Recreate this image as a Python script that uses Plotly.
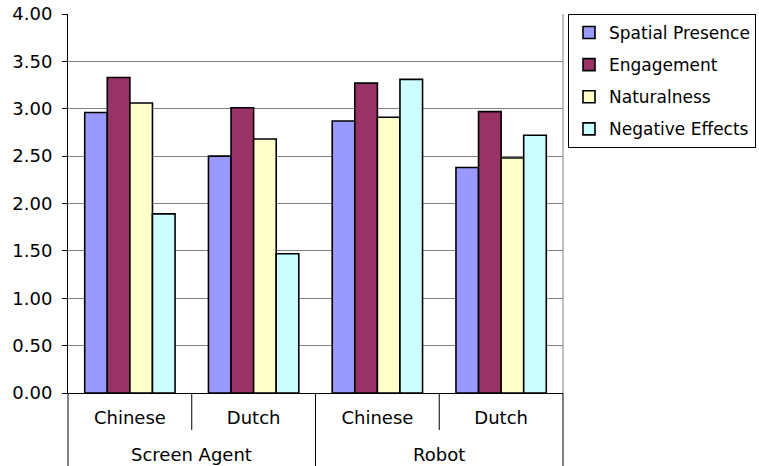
import plotly.graph_objects as go

groups = ["Screen Agent", "Robot"]
languages = ["Chinese", "Dutch"]
series_names = ["Spatial Presence", "Engagement", "Naturalness", "Negative Effects"]
spatial_presence = [2.96, 2.50, 2.87, 2.38]
engagement = [3.33, 3.01, 3.27, 2.97]
naturalness = [3.06, 2.68, 2.91, 2.48]
negative_effects = [1.89, 1.47, 3.31, 2.72]
colors = ["#9999FF", "#993366", "#FFFFCC", "#CCFFFF"]
y_ticks = [0, 0.5, 1.0, 1.5, 2.0, 2.5, 3.0, 3.5, 4.0]

cats = [f"{g}|{l}" for g in groups for l in languages]
ticktext = [l for g in groups for l in languages]
values = [spatial_presence, engagement, naturalness, negative_effects]

FONT = "DejaVu Sans"
fig = go.Figure()
for i, (name, vals, col) in enumerate(zip(series_names, values, colors)):
    fig.add_trace(go.Bar(
        x=cats, y=vals, name=name, legendgroup=name,
        marker=dict(color=col, line=dict(color="black", width=1.6)),
    ))

fig.update_layout(
    width=759, height=466,
    margin=dict(l=68, r=196, t=14, b=73, autoexpand=False),
    paper_bgcolor="white", plot_bgcolor="white",
    barmode="group", bargap=0.27, bargroupgap=0,
    font=dict(family=FONT, size=18, color="black"),
    showlegend=True,
    legend=dict(xref="container", yref="container",
                x=568 / 759, y=1 - 14 / 466, xanchor="left", yanchor="top",
                bordercolor="black", borderwidth=1,
                traceorder="grouped", tracegroupgap=7,
                font=dict(family=FONT, size=17, color="black")),
)
fig.update_xaxes(
    type="category", tickvals=cats, ticktext=ticktext,
    showline=True, linecolor="black", linewidth=1,
    ticks="", showgrid=False, ticklabelstandoff=8,
    range=[-0.5, 3.5], automargin=False,
)
fig.update_yaxes(
    range=[0, 4], tickvals=y_ticks, tickformat=".2f",
    showgrid=True, gridcolor="#808080", gridwidth=1,
    showline=True, linecolor="black", linewidth=1,
    ticks="outside", ticklen=5, tickcolor="black",
    zeroline=False, automargin=False, ticklabelstandoff=6,
)

# axis decorations: category dividers and plot-area border
b_full = -73 / 379
b_short = -37 / 379
for xp, yb in [(0, b_full), (0.25, b_short), (0.5, b_full), (0.75, b_short), (1.0, b_full)]:
    fig.add_shape(type="line", xref="paper", yref="paper", x0=xp, x1=xp, y0=0, y1=yb,
                  line=dict(color="black", width=1))
fig.add_shape(type="line", xref="paper", yref="paper", x0=1, x1=1, y0=0, y1=1,
              line=dict(color="#808080", width=1))

for gi, g in enumerate(groups):
    fig.add_annotation(x=gi * 2 + 0.5, xref="x", y=-61 / 379, yref="paper",
                       text=g, showarrow=False, yanchor="middle",
                       font=dict(family=FONT, size=18, color="black"))

fig.write_html("out.html")
